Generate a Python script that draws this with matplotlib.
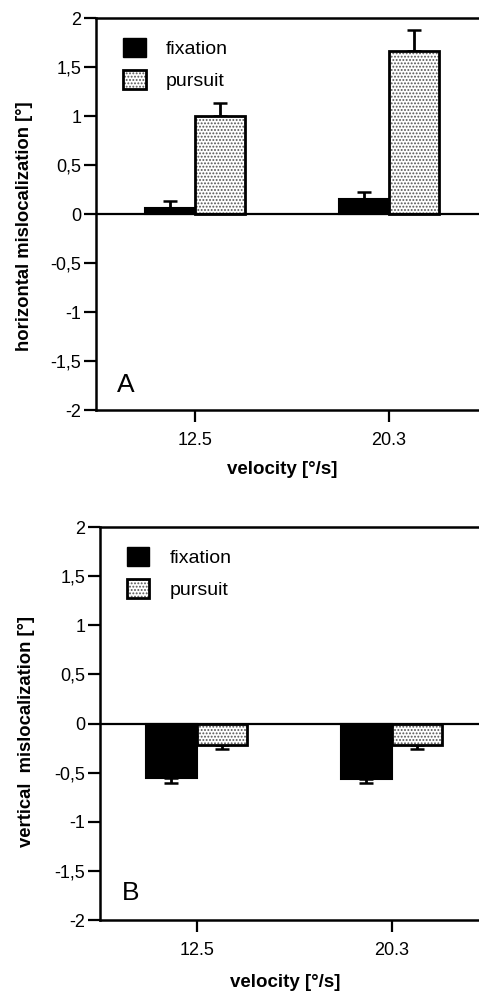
import matplotlib
matplotlib.use("Agg")
import matplotlib.pyplot as plt
from matplotlib.patches import Patch

plt.rcParams['font.family'] = ['Liberation Sans', 'DejaVu Sans']
plt.rcParams['hatch.linewidth'] = 0.9

# dane
velocities = ['12.5', '20.3']
yticks = [-2, -1.5, -1, -0.5, 0, 0.5, 1, 1.5, 2]
ytick_labels = ['-2', '-1,5', '-1', '-0,5', '0', '0,5', '1', '1,5', '2']

horiz_fix = [0.06, 0.15]
horiz_fix_err = [0.07, 0.07]
horiz_pur = [1.0, 1.66]
horiz_pur_err = [0.13, 0.22]

vert_fix = [-0.55, -0.56]
vert_fix_err = [0.06, 0.045]
vert_pur = [-0.215, -0.215]
vert_pur_err = [0.04, 0.04]

W = 0.26
DOTS = '#555555'
fig = plt.figure(figsize=(4.79, 9.96), dpi=100)


def panel(rect, xlim, fix, fix_err, pur, pur_err, ylabel, letter, ylab_xy, xlab_xy, letter_xy):
    ax = fig.add_axes(rect)
    x = list(range(len(velocities)))
    xf = [i - W for i in x]

    ax.bar(xf, fix, width=W, align='edge', color='black', edgecolor='black', linewidth=1.5, zorder=3)
    # kropkowane słupki: najpierw wzór, potem czarny kontur
    ax.bar(x, pur, width=W, align='edge', color='white', edgecolor=DOTS, hatch='.....', linewidth=0, zorder=3)
    ax.bar(x, pur, width=W, align='edge', fill=False, edgecolor='black', linewidth=2, zorder=4)

    # błędy tylko w kierunku słupka
    def one_side(vals, errs):
        lo = [e if v < 0 else 0 for v, e in zip(vals, errs)]
        hi = [e if v >= 0 else 0 for v, e in zip(vals, errs)]
        return [lo, hi]

    cf = [i - W / 2 for i in x]
    cp = [i + W / 2 for i in x]
    ax.errorbar(cf, fix, yerr=one_side(fix, fix_err), fmt='none', ecolor='black', elinewidth=2,
                capsize=4.7, capthick=1.8, zorder=2)
    ax.errorbar(cp, pur, yerr=one_side(pur, pur_err), fmt='none', ecolor='black', elinewidth=2,
                capsize=4.7, capthick=1.8, zorder=2)

    ax.axhline(0, color='black', linewidth=1.6, zorder=5)

    ax.set_xlim(*xlim)
    ax.set_ylim(-2, 2)
    ax.set_xticks(x)
    ax.set_xticklabels(velocities)
    ax.set_yticks(yticks)
    ax.set_yticklabels(ytick_labels)
    ax.tick_params(axis='both', labelsize=13, width=1.6, length=8.5, direction='out')
    ax.tick_params(axis='y', pad=2)
    ax.tick_params(axis='x', pad=7)
    for s in ['left', 'bottom', 'top']:
        ax.spines[s].set_linewidth(1.8)
    ax.spines['right'].set_visible(False)

    ax.set_ylabel(ylabel, fontsize=13.3, fontweight='bold')
    ax.yaxis.label.set_va('center')
    ax.yaxis.set_label_coords(*ylab_xy)
    ax.set_xlabel('velocity [°/s]', fontsize=13.5, fontweight='bold')
    ax.xaxis.label.set_va('center')
    ax.xaxis.set_label_coords(*xlab_xy)

    ax.text(letter_xy[0], letter_xy[1], letter, transform=ax.transAxes, fontsize=19,
            ha='left', va='baseline')

    h_fix = Patch(facecolor='black', edgecolor='black', linewidth=1)
    h_pur = (Patch(facecolor='white', edgecolor=DOTS, hatch='.....', linewidth=0),
             Patch(fill=False, edgecolor='black', linewidth=2))
    ax.legend([h_fix, h_pur], ['fixation', 'pursuit'], loc='upper left',
              bbox_to_anchor=(0.07, 0.95), frameon=False, fontsize=14, borderpad=0,
              borderaxespad=0, handlelength=1.15, handleheight=1.15, handletextpad=1.05,
              labelspacing=0.6)
    return ax


panel([96 / 479, 1 - 410 / 996, 391 / 479, 392 / 996], (-0.51, 1.505),
      horiz_fix, horiz_fix_err, horiz_pur, horiz_pur_err,
      'horizontal mislocalization [°]', 'A', (-0.182, 0.47), (0.476, -0.153), (0.054, 0.046))

panel([100 / 479, 1 - 920 / 996, 387 / 479, 393 / 996], (-0.497, 1.49),
      vert_fix, vert_fix_err, vert_pur, vert_pur_err,
      'vertical  mislocalization [°]', 'B', (-0.19, 0.48), (0.478, -0.16), (0.057, 0.051))

fig.savefig('out.png', dpi=100)
